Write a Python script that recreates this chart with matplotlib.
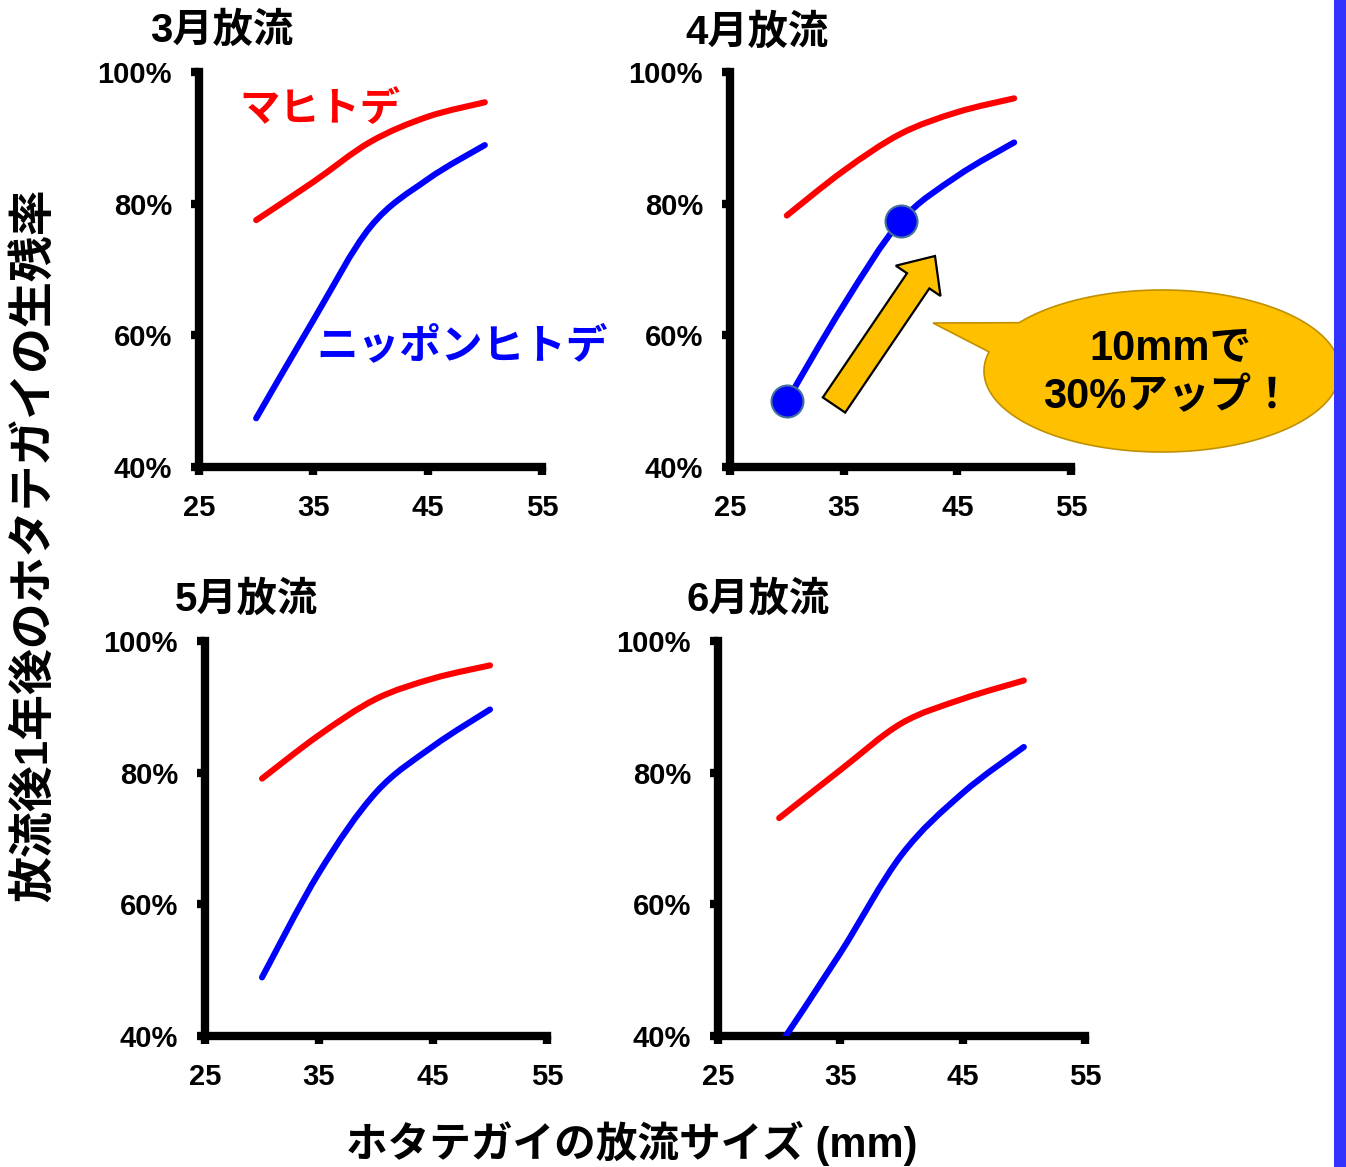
import numpy as np
import matplotlib
matplotlib.use("Agg")
import matplotlib.pyplot as plt
from matplotlib.path import Path
from matplotlib.patches import PathPatch, FancyArrow, Rectangle, Polygon

# ---- data -------------------------------------------------------------
release_size = [30, 35, 40, 45, 50]          # mm

mahitode_mar = [77.5, 83.3, 89.4, 93.2, 95.4]
mahitode_apr = [78.2, 85.0, 90.6, 93.9, 96.0]
mahitode_may = [79.1, 85.7, 91.2, 94.3, 96.3]
mahitode_jun = [73.1, 80.4, 87.5, 91.2, 94.0]

nippon_mar = [47.4, 62.3, 76.5, 83.7, 88.9]
nippon_apr = [50.0, 64.6, 77.3, 84.2, 89.3]
nippon_may = [48.9, 64.8, 77.0, 84.0, 89.6]
nippon_jun = [38.5, 52.6, 67.5, 76.9, 83.9]

panel_titles = ["3月放流", "4月放流", "5月放流", "6月放流"]
x_ticks = [25, 35, 45, 55]
y_ticks = [40, 60, 80, 100]
y_tick_labels = [f"{v}%" for v in y_ticks]

RED = "#FF0000"
BLUE = "#0000FF"
GOLD = "#FFC000"

W, H = 1346, 1167
JP = ["Noto Sans CJK JP", "DejaVu Sans"]
MIX = ["Liberation Sans", "Noto Sans CJK JP", "DejaVu Sans"]

fig = plt.figure(figsize=(W / 100, H / 100), dpi=100)
fig.patch.set_facecolor("white")


def smooth_path(xs, ys):
    """Smoothed curve through the points (cubic Bezier, Catmull-Rom style)."""
    pts = np.column_stack([xs, ys]).astype(float)
    n = len(pts)
    verts = [pts[0]]
    codes = [Path.MOVETO]
    for i in range(n - 1):
        p0 = pts[max(i - 1, 0)]
        p1 = pts[i]
        p2 = pts[i + 1]
        p3 = pts[min(i + 2, n - 1)]
        verts += [p1 + (p2 - p0) / 6.0, p2 - (p3 - p1) / 6.0, p2]
        codes += [Path.CURVE4] * 3
    return Path(verts, codes)


def px_rect(l, r, b, t):
    return [l / W, 1 - b / H, (r - l) / W, (b - t) / H]


panels = [
    (px_rect(199, 542, 467, 72), mahitode_mar, nippon_mar),
    (px_rect(730, 1071, 467, 72), mahitode_apr, nippon_apr),
    (px_rect(205, 547, 1036, 641), mahitode_may, nippon_may),
    (px_rect(718, 1085, 1036, 641), mahitode_jun, nippon_jun),
]

axes = []
for rect, red_vals, blue_vals in panels:
    ax = fig.add_axes(rect)
    ax.set_xlim(25, 55)
    ax.set_ylim(40, 100)
    for s in ("top", "right"):
        ax.spines[s].set_visible(False)
    for s in ("left", "bottom"):
        ax.spines[s].set_linewidth(6)
        ax.spines[s].set_color("black")
    ax.set_xticks(x_ticks)
    ax.set_yticks(y_ticks)
    ax.set_yticklabels(y_tick_labels)
    ax.tick_params(direction="out", length=5.5, width=6, pad=14,
                   labelsize=21, colors="black")
    for lbl in ax.get_xticklabels() + ax.get_yticklabels():
        lbl.set_fontweight("bold")
        lbl.set_family(["Liberation Sans", "DejaVu Sans"])
    ax.add_patch(PathPatch(smooth_path(release_size, red_vals), fill=False,
                           edgecolor=RED, lw=4.4, capstyle="round", zorder=3))
    ax.add_patch(PathPatch(smooth_path(release_size, blue_vals), fill=False,
                           edgecolor=BLUE, lw=4.4, capstyle="round", zorder=3))
    axes.append(ax)

# series labels
axes[0].text(35.6, 94.3, "マヒトデ", color=RED, fontsize=29, fontweight="bold",
             family=JP, ha="center", va="center", clip_on=False)
axes[0].text(48.0, 58.3, "ニッポンヒトデ", color=BLUE, fontsize=30,
             fontweight="bold", family=JP, ha="center", va="center",
             clip_on=False)

# highlighted points for April release
axes[1].plot([release_size[0], release_size[2]],
             [nippon_apr[0], nippon_apr[2]], "o", ms=23,
             mfc=BLUE, mec="#41719C", mew=1.5, zorder=6, clip_on=False)

# panel titles
title_pos = [(222, 31), (757, 33), (246, 600), (758, 600)]
for (tx, ty), t in zip(title_pos, panel_titles):
    fig.text(tx / W, 1 - ty / H, t, fontsize=29, fontweight="bold",
             family=MIX, ha="center", va="center")

# axis titles
fig.text(36 / W, 1 - 545 / H, "放流後1年後のホタテガイの生残率", rotation=90,
         fontsize=33, fontweight="bold", family=MIX, ha="center", va="center")
fig.text(632 / W, 1 - 1143 / H, "ホタテガイの放流サイズ (mm)",
         fontsize=30, fontweight="bold", family=MIX, ha="center", va="center")

# overlay in pixel coordinates for callout, arrow and side bar
ov = fig.add_axes([0, 0, 1, 1])
ov.set_xlim(0, W)
ov.set_ylim(H, 0)
ov.axis("off")
ov.set_zorder(10)

# speech bubble: ellipse with a pointer
cx, cy, a, b = 1162, 371, 178, 81
t1 = np.arctan2(-(323 - cy) / b, (1020 - cx) / a)
t2 = np.arctan2(-(352 - cy) / b, (990 - cx) / a)
if t2 < t1:
    t2 += 2 * np.pi
ang = np.linspace(t2, t1 + 2 * np.pi, 300)
bubble = np.column_stack([cx + a * np.cos(ang), cy - b * np.sin(ang)])
bubble = np.vstack([bubble, [[933, 323]]])
ov.add_patch(Polygon(bubble, closed=True, facecolor=GOLD,
                     edgecolor="#C09000", lw=1.2, zorder=2))
ov.text(1170, 349, "10mmで", fontsize=30, fontweight="bold", family=MIX,
        ha="center", va="center", zorder=3)
ov.text(1168, 397, "30%アップ！", fontsize=30, fontweight="bold", family=MIX,
        ha="center", va="center", zorder=3)

# block arrow
ov.add_patch(FancyArrow(834, 405, 101, -149, width=27, head_width=54,
                        head_length=30, length_includes_head=True,
                        facecolor=GOLD, edgecolor="black", lw=1.6, zorder=4))

# side bar
ov.add_patch(Rectangle((1334, 0), 12, H, facecolor="#3333FF",
                       edgecolor="none", zorder=5))

fig.savefig("out.png", dpi=100, facecolor="white")
